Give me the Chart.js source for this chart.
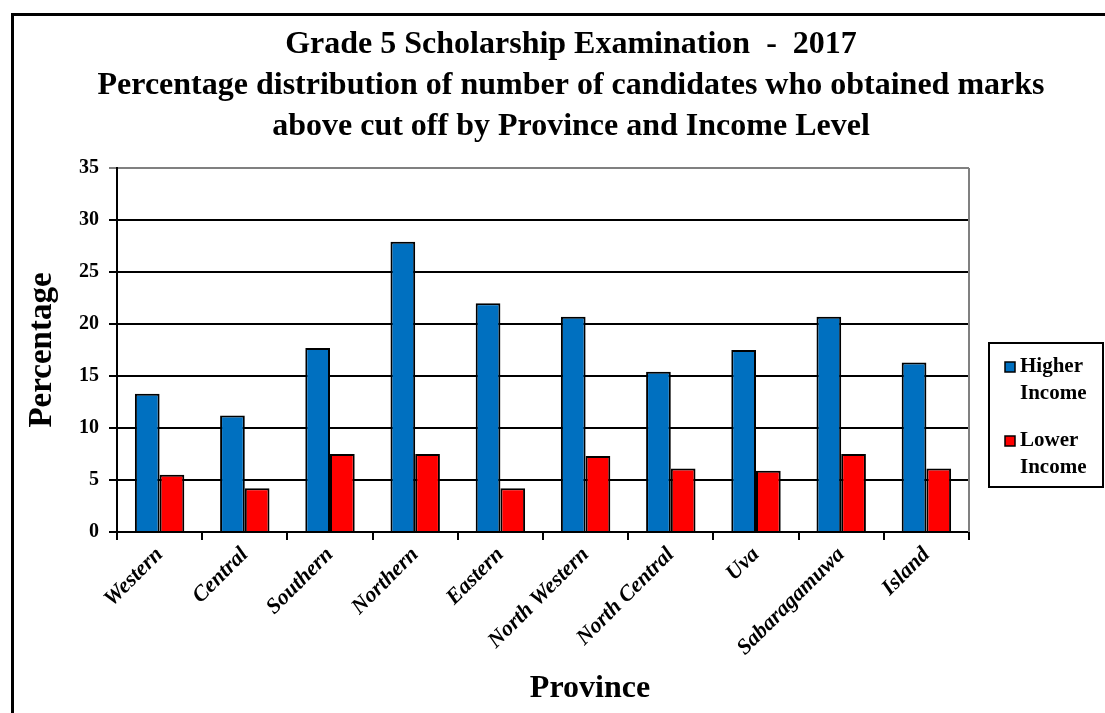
<!DOCTYPE html>
<html>
<head>
<meta charset="utf-8">
<title>Grade 5 Scholarship Examination 2017</title>
<script src="https://cdn.jsdelivr.net/npm/chart.js@4.4.0/dist/chart.umd.min.js"></script>
<style>
  html, body { margin: 0; padding: 0; background: #fff; }
  #wrap { width: 1105px; height: 713px; }
</style>
</head>
<body>
<div id="wrap"><canvas id="chart" width="1105" height="713"></canvas></div>
<script>
// chart data
const provinces = ['Western', 'Central', 'Southern', 'Northern', 'Eastern',
  'North Western', 'North Central', 'Uva', 'Sabaragamuwa', 'Island'];
const higherIncome = [13.3, 11.2, 17.7, 27.9, 22.0, 20.7, 15.4, 17.5, 20.7, 16.3];
const lowerIncome = [5.5, 4.2, 7.5, 7.5, 4.2, 7.3, 6.1, 5.9, 7.5, 6.1];
const yTicks = [0, 5, 10, 15, 20, 25, 30, 35];
const titleLines = [
  'Grade 5 Scholarship Examination  -  2017',
  'Percentage distribution of number of candidates who obtained marks',
  'above cut off by Province and Income Level'
];
const seriesLabels = [['Higher', 'Income'], ['Lower', 'Income']];
const xTitle = 'Province';
const yTitle = 'Percentage';

const SERIF = '"Liberation Serif", "Times New Roman", serif';

/**
 * Outer frame (only top and left edges show), titles and the boxed legend.
 */
const decorations = {
  id: 'decorations',
  beforeDraw(chart) {
    const ctx = chart.ctx;
    ctx.save();
    ctx.fillStyle = '#fff';
    ctx.fillRect(0, 0, chart.width, chart.height);
    ctx.strokeStyle = '#000';
    ctx.lineWidth = 3;
    ctx.beginPath();
    ctx.moveTo(12.5, chart.height);
    ctx.lineTo(12.5, 14.5);
    ctx.lineTo(chart.width, 14.5);
    ctx.stroke();
    ctx.restore();
  },
  afterDraw(chart) {
    const ctx = chart.ctx;
    const area = chart.chartArea;
    ctx.save();

    // grey right edge of the plot area
    ctx.strokeStyle = '#808080';
    ctx.lineWidth = 2;
    ctx.beginPath();
    ctx.moveTo(area.right, area.top);
    ctx.lineTo(area.right, area.bottom);
    ctx.stroke();

    // main title
    ctx.fillStyle = '#000';
    ctx.textAlign = 'center';
    ctx.textBaseline = 'middle';
    ctx.font = 'bold 32px ' + SERIF;
    const titleY = [45, 86, 127];
    titleLines.forEach((line, i) => ctx.fillText(line, 571, titleY[i]));

    // x axis title
    ctx.font = 'bold 32px ' + SERIF;
    ctx.fillText(xTitle, 590, 689);

    // legend box
    ctx.lineWidth = 2;
    ctx.strokeStyle = '#000';
    ctx.strokeRect(989, 343, 114, 144);
    ctx.font = 'bold 21px ' + SERIF;
    ctx.textAlign = 'left';
    const itemTop = [367, 441];
    chart.data.datasets.forEach((ds, i) => {
      const y = itemTop[i];
      ctx.fillStyle = ds.backgroundColor;
      ctx.fillRect(1005, y - 5, 10, 10);
      ctx.lineWidth = 1.5;
      ctx.strokeRect(1005, y - 5, 10, 10);
      ctx.fillStyle = '#000';
      seriesLabels[i].forEach((t, j) => ctx.fillText(t, 1020, y + j * 27));
    });
    ctx.restore();
  }
};

const chart = new Chart(document.getElementById('chart'), {
  type: 'bar',
  data: {
    labels: provinces,
    datasets: [
      {
        label: seriesLabels[0].join(' '),
        data: higherIncome,
        backgroundColor: '#0070C0',
        borderColor: '#000',
        borderWidth: 2,
        categoryPercentage: 0.58,
        barPercentage: 1.0
      },
      {
        label: seriesLabels[1].join(' '),
        data: lowerIncome,
        backgroundColor: '#FF0000',
        borderColor: '#000',
        borderWidth: 2,
        categoryPercentage: 0.58,
        barPercentage: 1.0
      }
    ]
  },
  options: {
    responsive: false,
    animation: false,
    devicePixelRatio: 1,
    layout: { padding: { left: 14, right: 136, top: 168, bottom: 0 } },
    plugins: {
      legend: { display: false },
      title: { display: false },
      tooltip: { enabled: false }
    },
    scales: {
      x: {
        afterFit(scale) { scale.height = 181; },
        grid: {
          display: true,
          drawOnChartArea: false,
          drawTicks: true,
          tickLength: 8,
          color: '#000',
          lineWidth: 2,
          offset: true
        },
        border: { color: '#000', width: 2 },
        ticks: {
          color: '#000',
          autoSkip: false,
          minRotation: 45,
          maxRotation: 45,
          padding: 2,
          font: { family: SERIF, size: 22, weight: 'bold', style: 'italic' }
        }
      },
      y: {
        min: 0,
        max: 35,
        afterFit(scale) { scale.width = 103; },
        afterBuildTicks(scale) { scale.ticks = yTicks.map(v => ({ value: v })); },
        grid: {
          color: ctx => (ctx.tick && ctx.tick.value === 35 ? '#808080' : '#000'),
          lineWidth: 2,
          drawTicks: true,
          tickLength: 8
        },
        border: { color: '#000', width: 2 },
        ticks: {
          color: '#000',
          padding: 10,
          font: { family: SERIF, size: 20, weight: 'bold' }
        },
        title: {
          display: true,
          text: yTitle,
          color: '#000',
          padding: { top: 9, bottom: 0 },
          font: { family: SERIF, size: 33, weight: 'bold' }
        }
      }
    }
  },
  plugins: [decorations]
});
</script>
</body>
</html>
